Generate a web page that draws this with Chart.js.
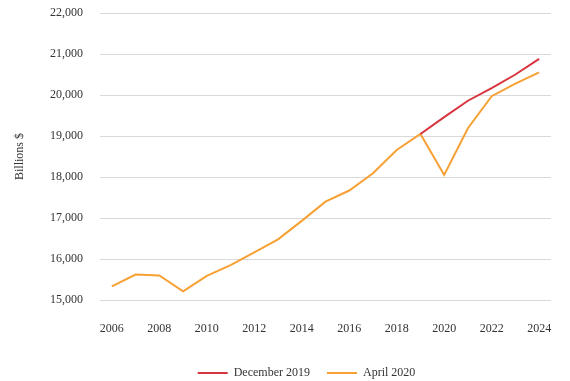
<!DOCTYPE html>
<html>
<head>
<meta charset="utf-8">
<script src="https://cdn.jsdelivr.net/npm/chart.js@4/dist/chart.umd.min.js"></script>
<style>
  html, body { margin: 0; padding: 0; background: #fff; }
  #wrap { width: 570px; height: 381px; }
</style>
</head>
<body>
<div id="wrap"><canvas id="myChart" width="570" height="381"></canvas></div>
<script>
// Years on the x axis
const years = ['2006','2007','2008','2009','2010','2011','2012','2013','2014','2015',
               '2016','2017','2018','2019','2020','2021','2022','2023','2024'];

// December 2019 projection (starts in 2019)
const dec2019 = [null,null,null,null,null,null,null,null,null,null,
                 null,null,null,19050,19460,19860,20170,20500,20880];

// April 2020 projection
const apr2020 = [15330,15620,15600,15210,15590,15850,16160,16480,16930,17400,
                 17670,18090,18660,19050,18050,19190,19970,20280,20550];

const ctx = document.getElementById('myChart').getContext('2d');
Chart.defaults.font.family = '"Liberation Serif", "DejaVu Serif", serif';
Chart.defaults.font.size = 12;
Chart.defaults.color = '#333';

// Legend sits lower and a bit right of centre, like the original
const legendTweak = {
    id: 'legendTweak',
    afterInit(chart) {
        const lg = chart.legend;
        const fit = lg.fit;
        lg.fit = function () { fit.call(this); this.height = 31; };
    },
    afterLayout(chart) {
        chart.legend.left += 27;
        chart.legend.right += 27;
    }
};

const data = {
    labels: years,
    datasets: [{
        label: 'December 2019',
        data: dec2019,
        borderColor: '#d8343f',
        backgroundColor: '#d8343f',
        borderWidth: 2,
        pointRadius: 0,
        tension: 0
    }, {
        label: 'April 2020',
        data: apr2020,
        borderColor: '#f7a033',
        backgroundColor: '#f7a033',
        borderWidth: 2,
        pointRadius: 0,
        tension: 0
    }]
};

const config = {
    type: 'line',
    data: data,
    plugins: [legendTweak],
    options: {
        responsive: false,
        animation: false,
        layout: { padding: { top: 13, right: 19, left: 8, bottom: 0 } },
        plugins: {
            legend: {
                position: 'bottom',
                labels: {
                    boxWidth: 30, boxHeight: 2, padding: 17,
                    generateLabels: function (chart) {
                        return Chart.defaults.plugins.legend.labels.generateLabels(chart)
                            .map(function (l) { l.lineWidth = 0; return l; });
                    }
                }
            },
            tooltip: { enabled: false }
        },
        scales: {
            x: {
                offset: true,
                grid: { display: false, drawTicks: false },
                border: { display: false },
                ticks: { padding: 22, maxRotation: 0, autoSkip: false,
                         callback: function (v, i) { return i % 2 === 0 ? years[i] : ''; } },
                afterFit: function (s) { s.height = 50; s.paddingLeft = 0; s.paddingRight = 0; }
            },
            y: {
                min: 15000,
                max: 22000,
                grid: { color: '#d9d9d9', drawTicks: false },
                border: { display: false },
                ticks: { stepSize: 1000, padding: 17 },
                title: { display: true, text: 'Billions $', padding: { top: 5, bottom: 23 } },
                afterFit: function (s) { s.width = 92; s.paddingTop = 0; s.paddingBottom = 0; }
            }
        }
    }
};

const myLineChart = new Chart(ctx, config);
</script>
</body>
</html>
